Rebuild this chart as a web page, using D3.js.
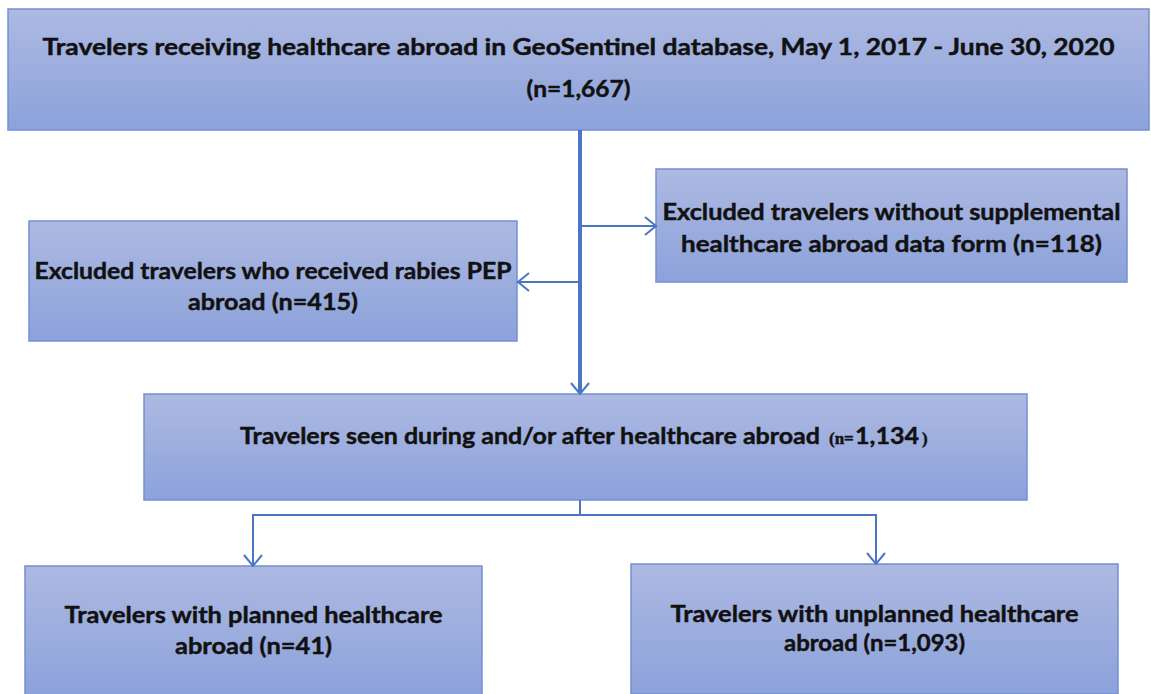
<!DOCTYPE html>
<html>
<head>
<meta charset="utf-8">
<script src="https://cdn.jsdelivr.net/npm/d3@7"></script>
<style>
  html, body { margin: 0; padding: 0; background: #fff; }
  svg { display: block; }
  text { font-family: Lato, "Open Sans", sans-serif; font-weight: 700; fill: #111; stroke: #111; stroke-width: 0.45px; }
</style>
</head>
<body>
<div id="chart"></div>
<script>
// flowchart content
const boxIds = ['all', 'noForm', 'rabies', 'seen', 'planned', 'unplanned'];
const boxLines = [
  ['Travelers receiving healthcare abroad in GeoSentinel database, May 1, 2017 - June 30, 2020', '(n=1,667)'],
  ['Excluded travelers without supplemental', 'healthcare abroad data form (n=118)'],
  ['Excluded travelers who received rabies PEP', 'abroad (n=415)'],
  ['Travelers seen during and/or after healthcare abroad'],
  ['Travelers with planned healthcare', 'abroad (n=41)'],
  ['Travelers with unplanned healthcare', 'abroad (n=1,093)'],
];
const seenCount = '1,134';

// layout (pixels)
const W = 1151, H = 694;
const layout = {
  all:       { x: 8,   y: 9,   w: 1141, h: 121, base: [55, 97],   len: [1072, 104] },
  noForm:    { x: 656, y: 169, w: 471,  h: 113, base: [220, 252], len: [458, 421] },
  rabies:    { x: 29,  y: 221, w: 488,  h: 120, base: [279, 310], len: [477, 170] },
  seen:      { x: 144, y: 394, w: 883,  h: 106, base: [444],      len: [580] },
  planned:   { x: 25,  y: 566, w: 457,  h: 130, base: [623, 654], len: [378, 157] },
  unplanned: { x: 631, y: 564, w: 487,  h: 130, base: [622, 651], len: [408, 181] },
};
const stem = 580;

const svg = d3.select('#chart').append('svg')
  .attr('width', W).attr('height', H);

const defs = svg.append('defs');
const grad = defs.append('linearGradient')
  .attr('id', 'boxFill').attr('x1', 0).attr('y1', 0).attr('x2', 0).attr('y2', 1);
grad.append('stop').attr('offset', '0%').attr('stop-color', '#adb9e2');
grad.append('stop').attr('offset', '100%').attr('stop-color', '#8ca2da');

const lineColor = '#4a76c6';

const boxes = svg.selectAll('g.box')
  .data(boxIds)
  .enter().append('g')
  .attr('class', 'box');

boxes.append('rect')
  .attr('x', d => layout[d].x)
  .attr('y', d => layout[d].y)
  .attr('width', d => layout[d].w)
  .attr('height', d => layout[d].h)
  .attr('fill', 'url(#boxFill)')
  .attr('stroke', '#7390d2')
  .attr('stroke-width', 1.5);

boxes.each(function (id, i) {
  const L = layout[id];
  const g = d3.select(this);
  const cx = L.x + L.w / 2;
  boxLines[i].forEach((line, j) => {
    if (id === 'seen') {
      g.append('text')
        .attr('x', 240).attr('y', L.base[j])
        .attr('font-size', 23)
        .attr('textLength', L.len[j]).attr('lengthAdjust', 'spacingAndGlyphs')
        .text(line);
      const t = g.append('text')
        .attr('x', 829).attr('y', L.base[j])
        .attr('font-size', 23);
      t.append('tspan').text('(n=')
        .attr('font-family', '"Liberation Serif", serif').attr('font-size', 17);
      t.append('tspan').attr('x', 855).text(seenCount)
        .attr('textLength', 64).attr('lengthAdjust', 'spacingAndGlyphs');
      t.append('tspan').attr('x', 922).text(')')
        .attr('font-family', '"Liberation Serif", serif').attr('font-size', 17);
    } else {
      g.append('text')
        .attr('x', cx)
        .attr('y', L.base[j])
        .attr('text-anchor', 'middle')
        .attr('font-size', 23)
        .attr('textLength', L.len[j])
        .attr('lengthAdjust', 'spacingAndGlyphs')
        .text(line);
    }
  });
});

// connectors
const conn = svg.append('g')
  .attr('fill', 'none')
  .attr('stroke', lineColor)
  .attr('stroke-linejoin', 'miter');

const line = d3.line();

function chevron(x, y, dir) {
  const s = 9, l = 11;
  if (dir === 'down') return [[x - s, y - l], [x, y], [x + s, y - l]];
  if (dir === 'right') return [[x - l, y - s], [x, y], [x - l, y + s]];
  return [[x + l, y - s], [x, y], [x + l, y + s]];
}

// main stem
conn.append('path')
  .attr('stroke-width', 4)
  .attr('d', line([[stem, layout.all.y + layout.all.h], [stem, layout.seen.y - 2]]));
conn.append('path').attr('stroke-width', 2)
  .attr('d', line(chevron(stem, layout.seen.y, 'down')));

// exclusions
const yRight = 226, yLeft = 282;
conn.append('path').attr('stroke-width', 2)
  .attr('d', line([[stem, yRight], [layout.noForm.x, yRight]]));
conn.append('path').attr('stroke-width', 2)
  .attr('d', line(chevron(layout.noForm.x, yRight, 'right')));
conn.append('path').attr('stroke-width', 2)
  .attr('d', line([[stem, yLeft], [layout.rabies.x + layout.rabies.w, yLeft]]));
conn.append('path').attr('stroke-width', 2)
  .attr('d', line(chevron(layout.rabies.x + layout.rabies.w + 1, yLeft, 'left')));

// split into planned / unplanned
const ySplit = 515, xL = 253, xR = 876;
conn.append('path').attr('stroke-width', 2)
  .attr('d', line([[stem, layout.seen.y + layout.seen.h], [stem, ySplit]]));
conn.append('path').attr('stroke-width', 2)
  .attr('d', line([[xL, layout.planned.y], [xL, ySplit], [xR, ySplit], [xR, layout.unplanned.y]]));
conn.append('path').attr('stroke-width', 2)
  .attr('d', line(chevron(xL, layout.planned.y, 'down')));
conn.append('path').attr('stroke-width', 2)
  .attr('d', line(chevron(xR, layout.unplanned.y, 'down')));
</script>
</body>
</html>
